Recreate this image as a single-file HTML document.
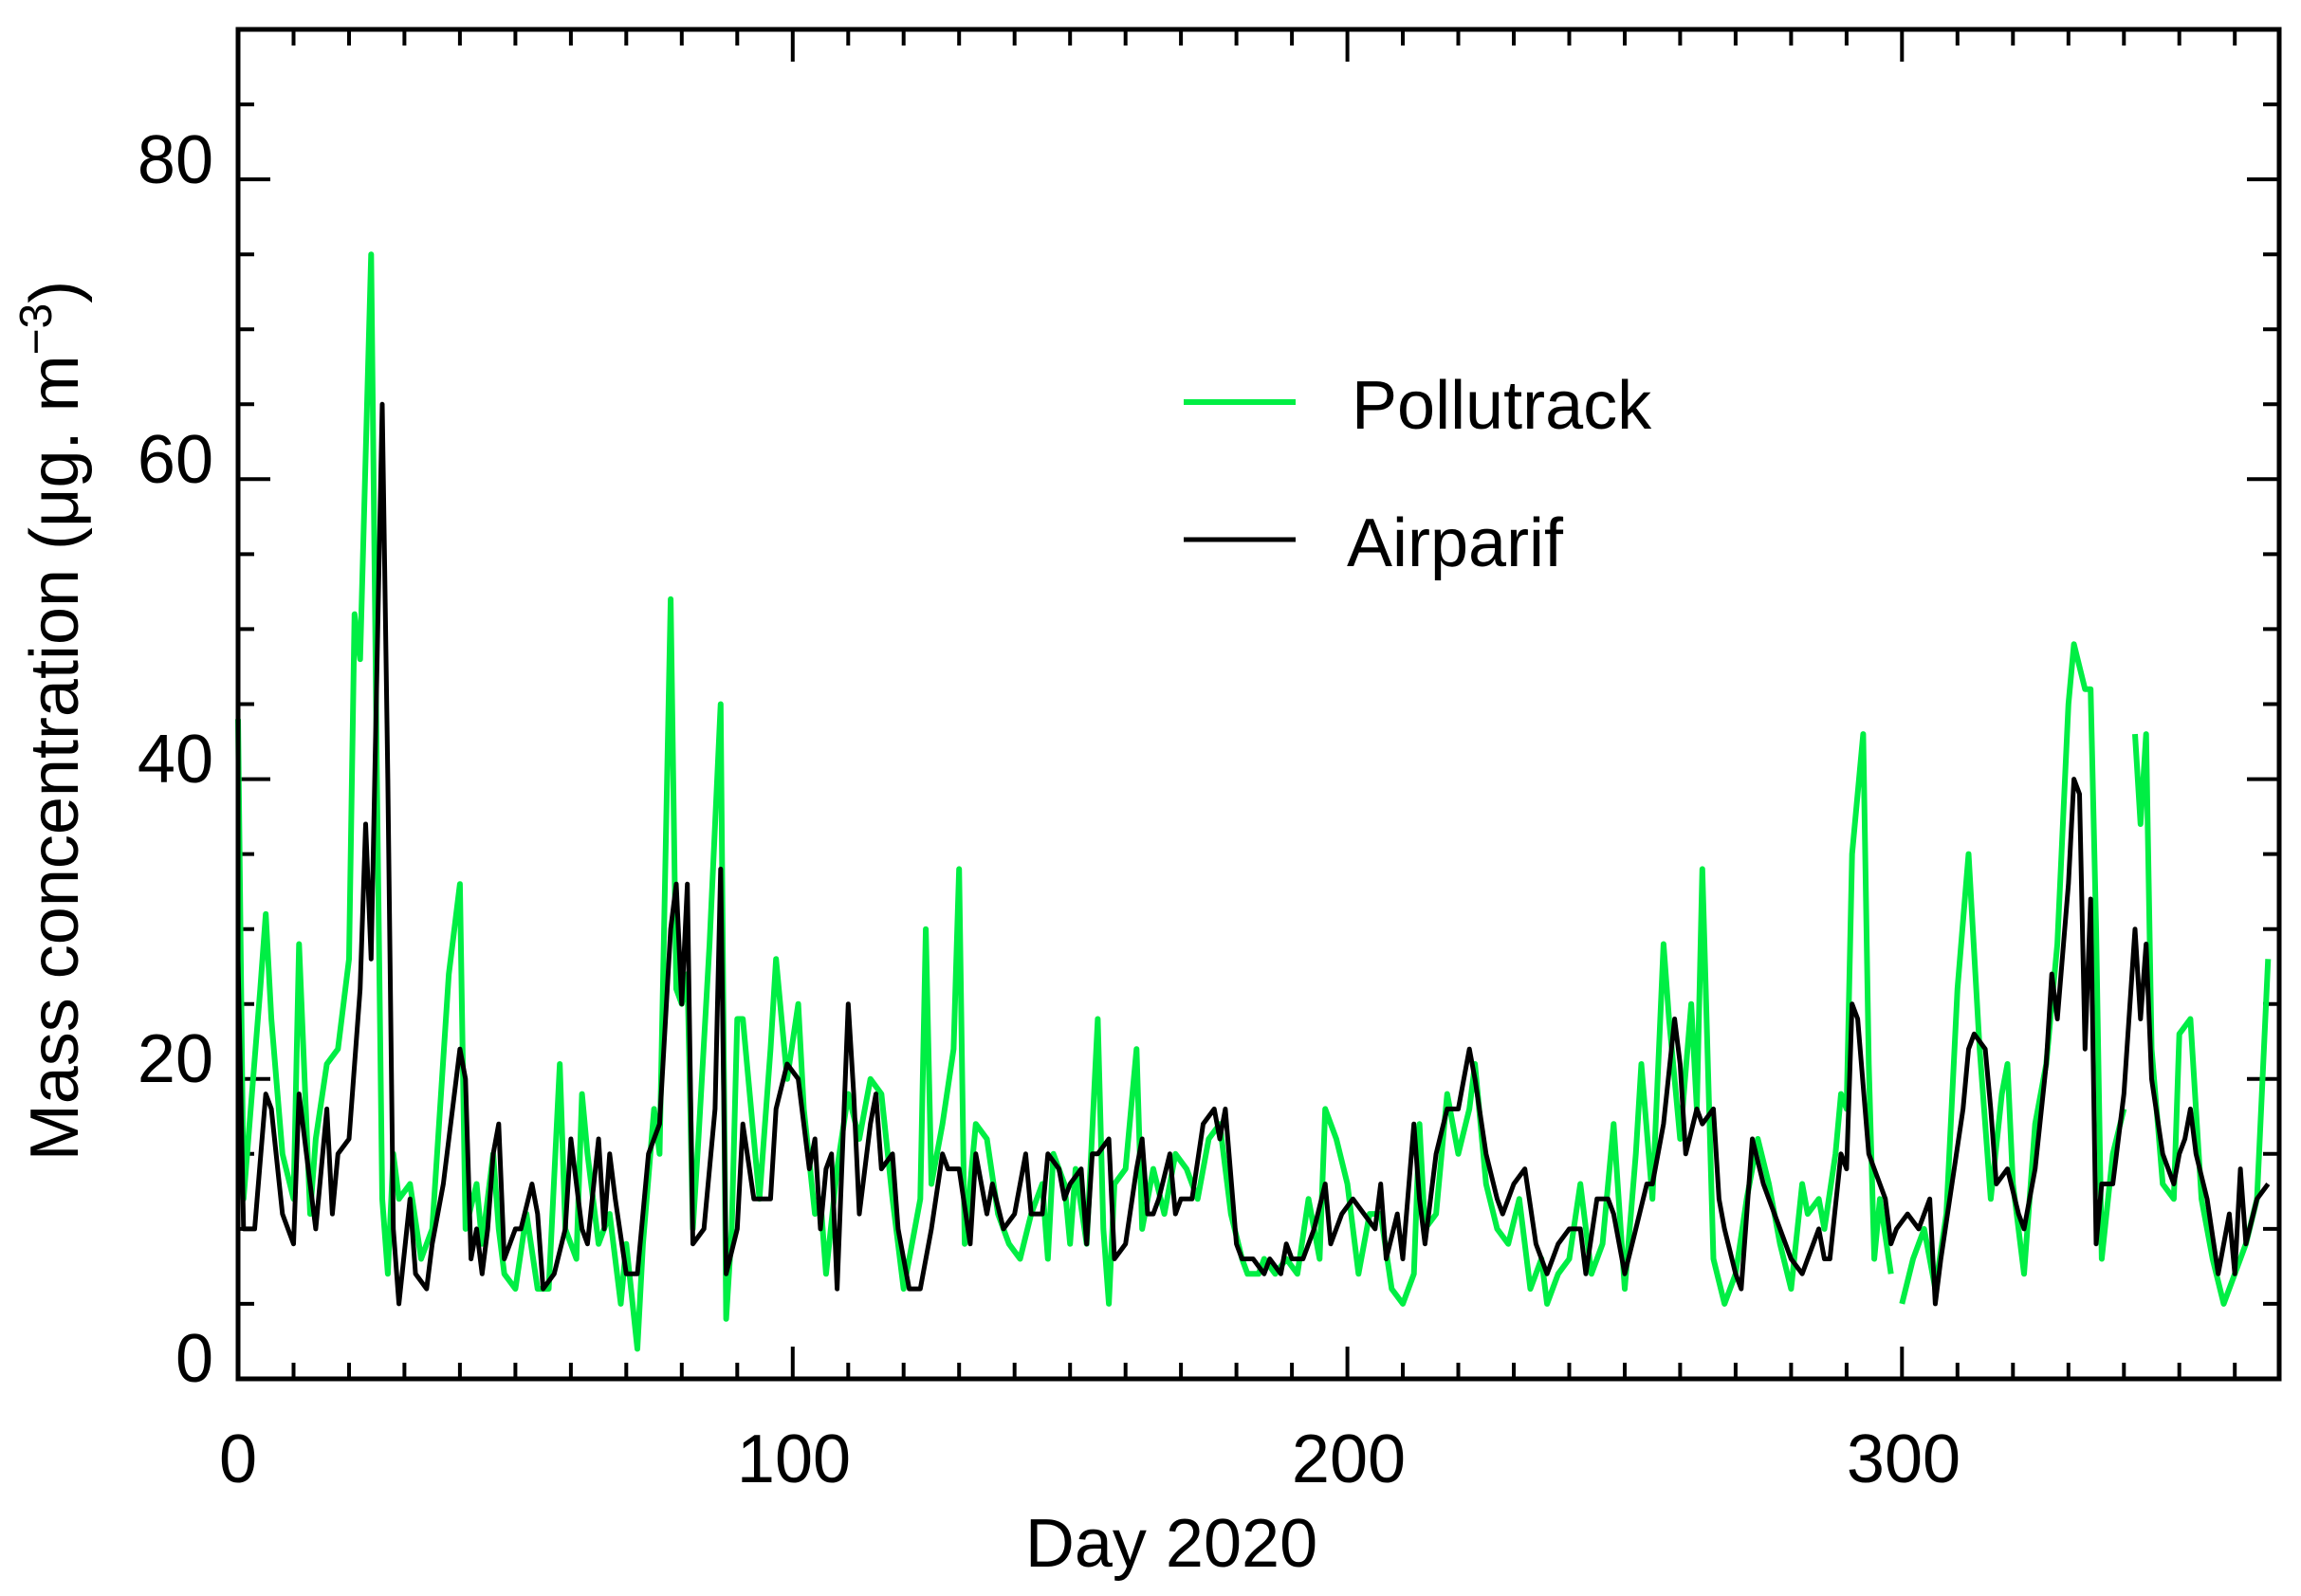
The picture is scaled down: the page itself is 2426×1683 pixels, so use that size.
<!DOCTYPE html>
<html><head><meta charset="utf-8"><style>
html,body{margin:0;padding:0;background:#fff;}
svg{display:block;}
text{font-family:"Liberation Sans",sans-serif;fill:#000;}
</style></head><body>
<svg id="s" width="2426" height="1683" viewBox="0 0 2426 1683" xmlns="http://www.w3.org/2000/svg">
<g id="ticks" stroke="#000" stroke-width="4"></g>
<path id="g" fill="none" stroke="#00ee44" stroke-width="6" stroke-linejoin="round"/>
<path id="k" fill="none" stroke="#000" stroke-width="5" stroke-linejoin="round"/>
<rect x="251" y="31" width="2152" height="1423" fill="none" stroke="#000" stroke-width="5"/>
<g font-size="72" text-anchor="middle">
<text x="251" y="1563">0</text><text x="837" y="1563">100</text><text x="1422" y="1563">200</text><text x="2007" y="1563">300</text>
<text x="1235" y="1652">Day 2020</text>
</g>
<g font-size="72" text-anchor="end">
<text x="225" y="1457">0</text><text x="225" y="1141">20</text><text x="225" y="825">40</text><text x="225" y="509">60</text><text x="225" y="193">80</text>
</g>
<text font-size="72" text-anchor="middle" transform="translate(82,760) rotate(-90)">Mass concentration (μg. m<tspan dy="-28" font-size="48">−3</tspan><tspan dy="28">)</tspan></text>
<line x1="1248" y1="424" x2="1366" y2="424" stroke="#00ee44" stroke-width="6"/>
<line x1="1248" y1="569" x2="1366" y2="569" stroke="#000" stroke-width="5"/>
<text x="1425" y="430" font-size="72" dy="22">Pollutrack</text>
<text x="1420" y="575" font-size="72" dy="22">Airparif</text>
</svg>
<script>
var X0=251,XW=2152/368,Y0=1454,YH=1423/90;
function px(d){return (X0+d*XW).toFixed(1)} function py(v){return (Y0-v*YH).toFixed(1)}
var t=document.getElementById('ticks'),h='';
for(var v=0;v<=90;v+=5){var L=v%20==0?34:17;var y=py(v);h+='<line x1="251" y1="'+y+'" x2="'+(251+L)+'" y2="'+y+'"/><line x1="2403" y1="'+y+'" x2="'+(2403-L)+'" y2="'+y+'"/>';}
for(var d=0;d<=368;d+=10){var L=d%100==0?34:17;var x=px(d);h+='<line x1="'+x+'" y1="1454" x2="'+x+'" y2="'+(1454-L)+'"/><line x1="'+x+'" y1="31" x2="'+x+'" y2="'+(31+L)+'"/>';}
t.innerHTML=h;
function parse(s){return s.trim().split(/\s*,\s*/).map(function(p){if(p=='|')return null;var a=p.split(':');return [+a[0],+a[1]];});}
function path(arr){var d='',m=true;arr.forEach(function(p){if(!p){m=true;return;}d+=(m?'M':'L')+px(p[0])+' '+py(p[1]);m=false;});return d;}
var K="0:28,1:10,3:10,5:19,6:18,8:11,10:9,11:19,13:13,14:10,16:18,17:11,18:15,20:16,22:26,23:37,24:28,26:65,27:40,28:10,29:5,31:12,32:7,34:6,35:9,37:13,40:22,41:20,42:8,43:10,44:7,45:10,46:15,47:17,48:8,50:10,51:10,53:13,54:11,55:6,57:7,59:10,60:16,62:10,63:9,65:16,66:10,67:15,68:12,70:7,72:7,74:15,76:17,78:30,79:33,80:25,81:33,82:9,84:10,86:18,87:34,88:7,90:10,91:17,93:12,94:12,96:12,97:18,99:21,101:20,103:14,104:16,105:10,106:14,107:15,108:6,110:25,111:19,112:11,114:17,115:19,116:14,118:15,119:10,121:6,123:6,125:10,127:15,128:14,130:14,132:9,133:15,135:11,136:13,138:10,140:11,142:15,143:11,145:11,146:15,148:14,149:12,150:13,152:14,153:9,154:15,155:15,157:16,158:8,160:9,162:14,163:16,164:11,165:11,166:12,168:15,169:11,170:12,172:12,174:17,176:18,177:16,178:18,180:9,181:8,183:8,185:7,186:8,188:7,189:9,190:8,192:8,194:10,196:13,197:9,199:11,201:12,203:11,205:10,206:13,207:8,209:11,210:8,212:17,213:12,214:9,216:15,218:18,220:18,222:22,223:20,225:15,227:12,228:11,230:13,232:14,234:9,236:7,238:9,240:10,242:10,243:7,245:12,247:12,248:11,250:7,252:10,254:13,255:13,257:17,259:24,260:21,261:15,263:18,264:17,266:18,267:12,268:10,270:7,271:6,273:16,275:13,276:12,278:10,280:8,282:7,283:8,285:10,286:8,287:8,289:15,290:14,291:25,292:24,294:15,295:14,297:12,298:9,299:10,301:11,303:10,305:12,306:5,307:8,309:13,311:18,312:22,313:23,315:22,316:18,317:13,319:14,321:11,322:10,324:14,326:21,327:27,328:24,330:33,331:40,332:39,333:22,334:32,335:9,336:13,338:13,340:19,342:30,343:24,344:29,345:20,347:15,349:13,350:15,351:16,352:18,353:15,355:12,357:7,359:11,360:7,361:14,362:9,364:12,366:13";
var G="0:44,1:12,4:26,5:31,6:24,8:15,10:12,11:29,13:11,14:16,16:21,18:22,20:28,21:51,22:48,24:75,25:41,26:12,27:7,28:15,29:12,31:13,33:8,35:10,38:27,40:33,41:10,43:13,44:9,46:15,47:10,48:7,50:6,52:11,54:6,56:6,58:21,59:10,61:8,62:19,63:15,65:9,67:11,69:5,70:9,72:2,73:9,75:18,76:15,78:52,79:26,80:25,81:27,82:10,83:16,85:29,87:45,88:4,89:10,90:24,91:24,93:16,94:12,96:22,97:28,99:20,101:25,102:18,104:11,105:12,106:7,108:14,110:19,112:16,113:18,114:20,116:19,118:12,120:6,121:8,123:12,124:30,125:13,127:17,129:22,130:34,131:9,133:17,135:16,137:11,139:9,141:8,143:11,145:13,146:8,147:15,149:13,150:9,151:14,153:9,155:24,156:10,157:5,158:13,160:14,162:22,163:10,165:14,167:11,169:15,171:14,173:12,175:16,177:17,179:11,181:8,182:7,184:7,185:8,187:7,189:8,191:7,193:12,195:8,196:18,198:16,200:13,202:7,204:11,206:11,208:6,210:5,212:7,213:17,214:10,216:11,218:19,220:15,222:18,223:21,225:13,227:10,229:9,231:12,233:6,235:8,236:5,238:7,240:8,242:13,244:7,246:9,248:17,250:6,252:15,253:21,255:12,257:29,258:24,260:16,262:25,263:18,264:34,266:8,268:5,270:7,272:12,274:16,276:13,278:9,280:6,282:13,283:11,285:12,286:10,288:15,289:19,290:18,291:35,293:43,294:21,295:8,296:12,298:7,|,300:5,302:8,304:10,306:6,308:11,310:26,312:35,314:22,316:12,318:19,319:21,320:13,322:7,324:17,326:21,328:29,330:45,331:49,333:46,334:46,335:30,336:8,338:15,340:18,|,342:43,343:37,344:43,345:22,347:13,349:12,350:23,352:24,354:12,356:8,358:5,360:7,362:9,364:12,366:28";
document.getElementById('k').setAttribute('d',path(parse(K)));
document.getElementById('g').setAttribute('d',path(parse(G)));
</script>
</body></html>
